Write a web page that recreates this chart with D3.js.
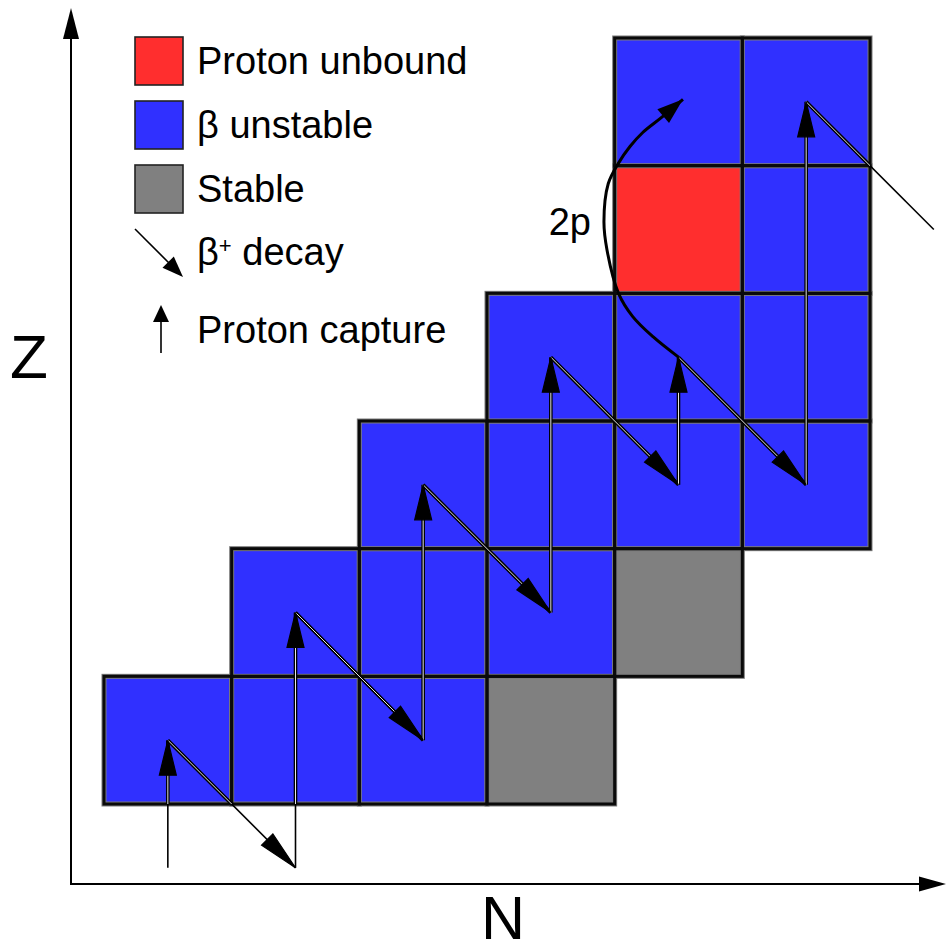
<!DOCTYPE html>
<html>
<head>
<meta charset="utf-8">
<script src="https://cdn.jsdelivr.net/npm/d3@7"></script>
<style>
  html, body { margin: 0; padding: 0; background: #fff; }
  svg { display: block; }
  text { font-family: "Liberation Sans", Arial, sans-serif; fill: #000; }
</style>
</head>
<body>
<script>
// ---- Nuclide cells: neutron index, proton index, state ----
const cellN     = [0, 1, 2, 3,   1, 2, 3, 4,   2, 3, 4, 5,   3, 4, 5,   4, 5,   4, 5];
const cellZ     = [0, 0, 0, 0,   1, 1, 1, 1,   2, 2, 2, 2,   3, 3, 3,   4, 4,   5, 5];
const cellState = ["beta", "beta", "beta", "stable",
                   "beta", "beta", "beta", "stable",
                   "beta", "beta", "beta", "beta",
                   "beta", "beta", "beta",
                   "unbound", "beta",
                   "beta", "beta"];

// ---- Legend ----
const legendStates = ["unbound", "beta", "stable"];
const legendLabels = ["Proton unbound", "β unstable", "Stable"];
const stateColour  = { unbound: "#ff2e2e", beta: "#3030ff", stable: "#808080" };

// ---- rp-process path (cell indices) and the kind of each step ----
const pathN    = [0, 0, 1, 1, 2, 2, 3, 3, 4, 4, 5, 5, 6];
const pathZ    = [-1, 0, -1, 1, 0, 2, 1, 3, 2, 3, 2, 5, 4];
const pathStep = ["capture", "decay", "capture", "decay", "capture", "decay",
                  "capture", "decay", "capture", "decay", "capture", "exit"];

// ---- Two-proton capture bypassing the unbound nucleus ----
const twoPN = [4.00, 3.80, 3.64, 3.53, 3.44, 3.416, 3.45, 3.53, 3.62, 3.72, 3.87, 4.035];
const twoPZ = [3.00, 3.16, 3.32, 3.50, 3.84, 4.06, 4.36, 4.52, 4.65, 4.76, 4.88, 5.02];
const twoPLabel = "2p";

const W = 946, H = 943;
const svg = d3.select("body").append("svg").attr("width", W).attr("height", H);

// Cell index -> pixel (cell edges)
const x = d3.scaleLinear().domain([0, 6]).range([104, 870]);
const y = d3.scaleLinear().domain([0, 6]).range([804, 38]);
const cx = n => x(n + 0.5);
const cy = z => y(z + 0.5);
const cw = x(1) - x(0);
const ch = y(0) - y(1);

const cells = cellN.map((n, i) => ({ n, z: cellZ[i], state: cellState[i] }));

// Polygon for an arrowhead whose tip is at (tx,ty), pointing away from (fx,fy)
function headPoints(fx, fy, tx, ty, len, wid) {
  const dx = tx - fx, dy = ty - fy, d = Math.hypot(dx, dy);
  const ux = dx / d, uy = dy / d;
  const bx = tx - ux * len, by = ty - uy * len;
  const px = -uy * wid / 2, py = ux * wid / 2;
  return [[tx, ty], [bx + px, by + py], [bx - px, by - py]].map(p => p.join(",")).join(" ");
}

// ---- Axes ----
const axisX0 = 71, axisY0 = 884;
const ax = svg.append("g");
ax.append("line").attr("x1", axisX0).attr("y1", axisY0).attr("x2", axisX0).attr("y2", 30)
  .attr("stroke", "#000").attr("stroke-width", 2);
ax.append("polygon").attr("points", headPoints(axisX0, 100, axisX0, 8, 31, 16));
ax.append("line").attr("x1", axisX0 - 1).attr("y1", axisY0).attr("x2", 925).attr("y2", axisY0)
  .attr("stroke", "#000").attr("stroke-width", 2);
ax.append("polygon").attr("points", headPoints(800, axisY0, 946, axisY0, 27, 15));

svg.append("text").attr("x", 10).attr("y", 378).attr("font-size", 62).text("Z");
svg.append("text").attr("x", 503).attr("y", 939).attr("font-size", 61)
  .attr("text-anchor", "middle").text("N");

// ---- Cells ----
const gCells = svg.append("g");
gCells.selectAll("rect.halo").data(cells).join("rect").attr("class", "halo")
  .attr("x", d => x(d.n)).attr("y", d => y(d.z + 1))
  .attr("width", cw).attr("height", ch)
  .attr("fill", d => stateColour[d.state])
  .attr("stroke", "#7a7a7a").attr("stroke-width", 5);
gCells.selectAll("rect.edge").data(cells).join("rect").attr("class", "edge")
  .attr("x", d => x(d.n)).attr("y", d => y(d.z + 1))
  .attr("width", cw).attr("height", ch)
  .attr("fill", "none")
  .attr("stroke", "#0a0a0a").attr("stroke-width", 3);

// Clip region covering the cells (arrows look outlined where they cross a cell)
const defs = svg.append("defs");
defs.append("clipPath").attr("id", "cellClip")
  .selectAll("rect").data(cells).join("rect")
  .attr("x", d => x(d.n)).attr("y", d => y(d.z + 1))
  .attr("width", cw).attr("height", ch);

// ---- rp-process path ----
const segs = pathStep.map((kind, i) => ({
  kind,
  x1: cx(pathN[i]), y1: cy(pathZ[i]),
  x2: cx(pathN[i + 1]), y2: cy(pathZ[i + 1])
}));

const gPath = svg.append("g");
gPath.selectAll("line.thin").data(segs).join("line").attr("class", "thin")
  .attr("x1", d => d.x1).attr("y1", d => d.y1).attr("x2", d => d.x2).attr("y2", d => d.y2)
  .attr("stroke", "#000").attr("stroke-width", 1.6);
const gIn = gPath.append("g").attr("clip-path", "url(#cellClip)");
gIn.selectAll("line.wide").data(segs).join("line").attr("class", "wide")
  .attr("x1", d => d.x1).attr("y1", d => d.y1).attr("x2", d => d.x2).attr("y2", d => d.y2)
  .attr("stroke", "#000").attr("stroke-width", 3.6);
gIn.selectAll("line.core").data(segs).join("line").attr("class", "core")
  .attr("x1", d => d.x1).attr("y1", d => d.y1).attr("x2", d => d.x2).attr("y2", d => d.y2)
  .attr("stroke", "#fff").attr("stroke-width", 0.9);

const headSize = { capture: [35, 17], decay: [40, 16] };
gPath.selectAll("polygon").data(segs.filter(d => d.kind !== "exit")).join("polygon")
  .attr("points", d => headPoints(d.x1, d.y1, d.x2, d.y2, headSize[d.kind][0], headSize[d.kind][1]))
  .attr("fill", "#000").attr("stroke", "#000").attr("stroke-width", 1.2).attr("stroke-linejoin", "miter");

// ---- 2p arc ----
const arcPts = twoPN.map((n, i) => [cx(n), cy(twoPZ[i])]);
const arcLine = d3.line().curve(d3.curveCatmullRom.alpha(0.5));
const arcPath = svg.append("path").attr("d", arcLine(arcPts))
  .attr("fill", "none").attr("stroke", "#000").attr("stroke-width", 3);
const arcNode = arcPath.node();
const L = arcNode.getTotalLength();
const endP = arcNode.getPointAtLength(L);
const backP = arcNode.getPointAtLength(L - 20);
svg.append("polygon").attr("points", headPoints(backP.x, backP.y, endP.x, endP.y, 26, 18));

svg.append("text").attr("x", cx(twoPN[5]) - 13).attr("y", 235)
  .attr("font-size", 38).attr("text-anchor", "end").text(twoPLabel);

// ---- Legend ----
const lg = svg.append("g");
const lgX = 135, lgY0 = 37, lgStep = 64, lgBox = 48;
lg.selectAll("rect").data(legendStates).join("rect")
  .attr("x", lgX).attr("y", (d, i) => lgY0 + i * lgStep)
  .attr("width", lgBox).attr("height", lgBox)
  .attr("fill", d => stateColour[d]).attr("stroke", "#222").attr("stroke-width", 1.6);
lg.selectAll("text.lab").data(legendLabels).join("text").attr("class", "lab")
  .attr("x", 197).attr("y", (d, i) => lgY0 + i * lgStep + 37)
  .attr("font-size", 38).text(d => d);

// β+ decay entry
lg.append("line").attr("x1", 135).attr("y1", 229).attr("x2", 172).attr("y2", 266)
  .attr("stroke", "#000").attr("stroke-width", 1.6);
lg.append("polygon").attr("points", headPoints(135, 229, 183, 277, 21, 16));
const bt = lg.append("text").attr("x", 197).attr("y", 265).attr("font-size", 38);
bt.append("tspan").text("β");
bt.append("tspan").attr("font-size", 22).attr("dy", -12).text("+");
bt.append("tspan").attr("dy", 12).text(" decay");

// Proton capture entry
lg.append("line").attr("x1", 161).attr("y1", 353).attr("x2", 161).attr("y2", 318)
  .attr("stroke", "#000").attr("stroke-width", 1.6);
lg.append("polygon").attr("points", headPoints(161, 353, 161, 305, 17, 16));
lg.append("text").attr("x", 197).attr("y", 343).attr("font-size", 38).text("Proton capture");
</script>
</body>
</html>
